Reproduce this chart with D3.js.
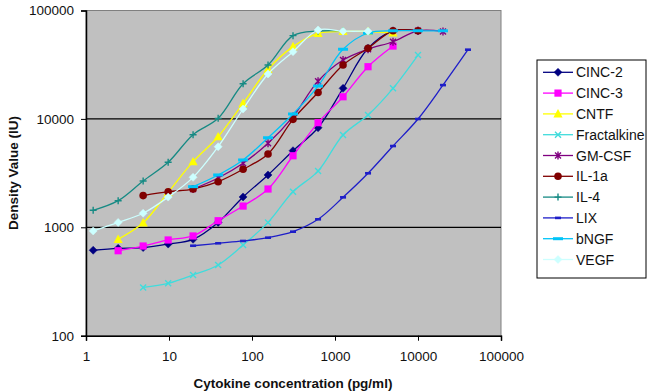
<!DOCTYPE html>
<html><head><meta charset="utf-8">
<script src="https://cdn.jsdelivr.net/npm/d3@7"></script>
<style>body{margin:0;background:#fff}svg{display:block;font-family:"Liberation Sans",Arial,sans-serif}</style>
</head><body><svg id="c" width="650" height="391"></svg>
<script>
// ---- data ----
const concentrations = [1.22, 2.44, 4.88, 9.77, 19.5, 39.1, 78.1, 156, 312, 625, 1250, 2500, 5000, 10000, 20000, 40000];
const seriesNames = ["CINC-2","CINC-3","CNTF","Fractalkine","GM-CSF","IL-1a","IL-4","LIX","bNGF","VEGF"];
const cinc2      = [614, 640, 650, 700, 775, 1110, 1905, 3040, 5090, 8290, 19150, 44800, 65000, 65000, null, null];
const cinc3      = [null, 608, 672, 764, 832, 1150, 1570, 2255, 4570, 9230, 16000, 30300, 47000, null, null, null];
const cntf       = [null, 775, 1100, 2100, 4030, 6850, 13900, 28700, 46400, 61600, 64000, 64000, 62000, null, null, null];
const fractalkine= [null, null, 279, 304, 363, 449, 687, 1110, 2130, 3300, 7100, 10860, 19150, 38800, null, null];
const gmcsf      = [null, null, null, null, 2250, 2850, 3900, 5960, 10500, 22300, 34900, 44000, 51500, 65000, 64000, null];
const il1a       = [null, null, 1960, 2130, 2255, 2634, 3430, 4750, 9910, 17500, 31400, 44800, 65000, 65000, null, null];
const il4        = [1435, 1760, 2675, 3980, 7150, 10120, 21100, 31400, 58600, 64700, 65000, null, null, null, null, null];
const lix        = [null, null, null, null, 676, 712, 748, 802, 911, 1185, 1890, 3150, 5620, 9980, 20500, 43500];
const bngf       = [null, null, null, null, 2370, 3040, 4180, 6700, 11100, 20100, 43900, 62000, 65000, 65000, 65000, null];
const vegf       = [925, 1110, 1347, 1900, 2890, 5540, 12340, 25950, 41700, 66100, 64500, 64500, null, null, null, null];
const seriesValues = [cinc2, cinc3, cntf, fractalkine, gmcsf, il1a, il4, lix, bngf, vegf];
const seriesColors = ["#000080","#FF00FF","#FFFF00","#40DCDC","#800080","#800000","#168A84","#1E1EC8","#00C4F8","#CCFFFF"];
const seriesMarkers = ["diamond","square","triangle","x","star","circle","plus","dashS","dashL","diamond"];
const yTicks = [100, 1000, 10000, 100000];
const xTicks = [1, 10, 100, 1000, 10000, 100000];
const xTitle = "Cytokine concentration (pg/ml)";
const yTitle = "Density Value (IU)";

// ---- layout ----
const svg = d3.select("#c");
const L = 86, R = 501, T = 10.5, B = 335.7;
const x = d3.scaleLog().domain([1, 100000]).range([L, R]);
const y = d3.scaleLog().domain([100, 100000]).range([B, T]);

svg.append("rect").attr("x", L).attr("y", T).attr("width", R - L).attr("height", B - T)
  .attr("fill", "#C0C0C0").attr("stroke", "#808080").attr("stroke-width", 1);

// gridlines
svg.append("g").selectAll("line").data(yTicks.filter(d => d > 100 && d < 100000)).join("line")
  .attr("x1", L).attr("x2", R).attr("y1", d => y(d)).attr("y2", d => y(d))
  .attr("stroke", "#000").attr("stroke-width", 1.2);

// axes
const fmt = d3.format("d");
const gy = svg.append("g").attr("transform", `translate(${L},0)`)
  .call(d3.axisLeft(y).tickValues(yTicks).tickFormat(fmt).tickSize(5).tickPadding(7));
const gx = svg.append("g").attr("transform", `translate(0,${B})`)
  .call(d3.axisBottom(x).tickValues(xTicks).tickFormat(fmt).tickSize(5).tickPadding(11));
[gx, gy].forEach(g => {
  g.selectAll("text").attr("font-size", "13.5px").attr("fill", "#111").attr("font-family", "'Liberation Sans',Arial,sans-serif");
  g.selectAll("line").attr("stroke", "#000");
  g.select(".domain").attr("stroke", "#000").attr("stroke-width", 1.5);
});

// titles
svg.append("text").attr("x", 293).attr("y", 387.5).attr("text-anchor", "middle")
  .attr("font-weight", "bold").attr("font-size", "13.5px").attr("fill", "#111").text(xTitle);
svg.append("text").attr("transform", "translate(18,173) rotate(-90)").attr("text-anchor", "middle")
  .attr("font-weight", "bold").attr("font-size", "13.5px").attr("fill", "#111").text(yTitle);

// markers
function marker(g, type, color) {
  switch (type) {
    case "diamond": g.append("path").attr("d", "M0,-4L4,0L0,4L-4,0Z").attr("fill", color).attr("stroke", color).attr("stroke-width", 0.5); break;
    case "square": g.append("rect").attr("x", -3.6).attr("y", -3.6).attr("width", 7.2).attr("height", 7.2).attr("fill", color); break;
    case "triangle": g.append("path").attr("d", "M0,-4.8L4.6,3.6L-4.6,3.6Z").attr("fill", color); break;
    case "circle": g.append("circle").attr("r", 3.8).attr("fill", color); break;
    case "x": g.append("path").attr("d", "M-3,-3L3,3M-3,3L3,-3").attr("stroke", color).attr("stroke-width", 1.4).attr("fill", "none"); break;
    case "star": g.append("path").attr("d", "M-3,-3L3,3M-3,3L3,-3M0,-4L0,4").attr("stroke", color).attr("stroke-width", 1.4).attr("fill", "none"); break;
    case "plus": g.append("path").attr("d", "M-3.5,0L3.5,0M0,-3.5L0,3.5").attr("stroke", color).attr("stroke-width", 1.4).attr("fill", "none"); break;
    case "dashS": g.append("rect").attr("x", -3).attr("y", -1.3).attr("width", 6).attr("height", 2.6).attr("fill", color); break;
    case "dashL": g.append("rect").attr("x", -5).attr("y", -1.5).attr("width", 10).attr("height", 3).attr("fill", color); break;
  }
}

const line = d3.line().x(d => x(d[0])).y(d => y(d[1])).curve(d3.curveCatmullRom.alpha(0.5));
const plot = svg.append("g");
seriesNames.forEach((name, i) => {
  const pts = concentrations.map((c, j) => [c, seriesValues[i][j]]).filter(p => p[1] != null);
  const g = plot.append("g");
  g.append("path").attr("d", line(pts)).attr("fill", "none").attr("stroke", seriesColors[i]).attr("stroke-width", 1.3);
  pts.forEach(p => {
    const m = g.append("g").attr("transform", `translate(${x(p[0])},${y(p[1])})`);
    marker(m, seriesMarkers[i], seriesColors[i]);
  });
});

// legend
const lg = svg.append("g");
lg.append("rect").attr("x", 537).attr("y", 60).attr("width", 109).attr("height", 218)
  .attr("fill", "#fff").attr("stroke", "#000").attr("stroke-width", 1);
seriesNames.forEach((name, i) => {
  const yy = 72.3 + i * 20.8;
  lg.append("line").attr("x1", 543).attr("x2", 573).attr("y1", yy).attr("y2", yy)
    .attr("stroke", seriesColors[i]).attr("stroke-width", 1.3);
  const m = lg.append("g").attr("transform", `translate(558,${yy})`);
  marker(m, seriesMarkers[i], seriesColors[i]);
  lg.append("text").attr("x", 576).attr("y", yy).attr("dy", "0.36em")
    .attr("font-size", "14px").attr("fill", "#111").text(name);
});
</script></body></html>
